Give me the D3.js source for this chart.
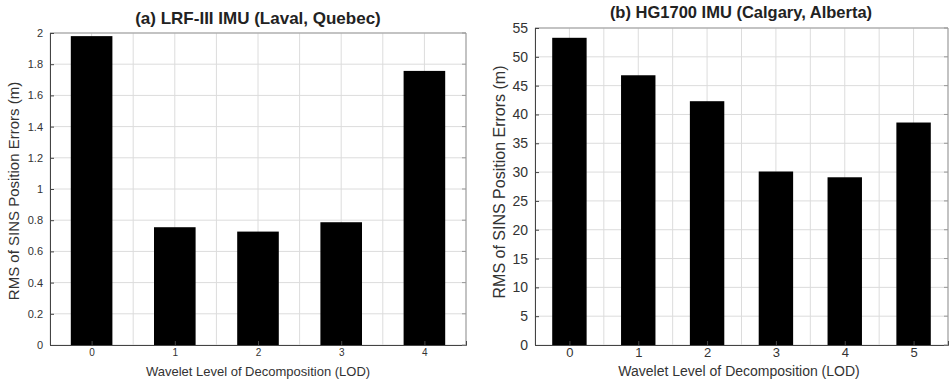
<!DOCTYPE html>
<html>
<head>
<meta charset="utf-8">
<script src="https://cdn.jsdelivr.net/npm/d3@7"></script>
<style>
  body { margin: 0; background: #fff; }
  svg { display: block; font-family: "Liberation Sans", Arial, sans-serif; }
</style>
</head>
<body>
<svg id="chart" width="950" height="381"></svg>
<script>
// data
var lodA = [0, 1, 2, 3, 4];
var rmsA = [1.98, 0.755, 0.727, 0.787, 1.757];
var yTicksA = [0, 0.2, 0.4, 0.6, 0.8, 1, 1.2, 1.4, 1.6, 1.8, 2];

var lodB = [0, 1, 2, 3, 4, 5];
var rmsB = [53.3, 46.8, 42.3, 30.1, 29.1, 38.6];
var yTicksB = [0, 5, 10, 15, 20, 25, 30, 35, 40, 45, 50, 55];

var titleA = "(a) LRF-III IMU (Laval, Quebec)";
var titleB = "(b) HG1700 IMU (Calgary, Alberta)";
var xLabel = "Wavelet Level of Decomposition (LOD)";
var yLabel = "RMS of SINS Position Errors (m)";

var svg = d3.select("#chart");

function drawPanel(opt) {
	var g = svg.append("g");
	var x = d3.scaleLinear().domain([-0.5, opt.cats.length - 0.5]).range([opt.left, opt.right]);
	var y = d3.scaleLinear().domain([0, opt.yMax]).range([opt.bottom, opt.top]);

	// grid: vertical every half step, horizontal at each tick
	var half = d3.range(-0.5, opt.cats.length - 0.5 + 0.01, 0.5);
	g.selectAll(".vg").data(half).enter().append("line")
		.attr("x1", function(d) { return x(d); })
		.attr("x2", function(d) { return x(d); })
		.attr("y1", opt.top).attr("y2", opt.bottom)
		.attr("stroke", "#dcdcdc").attr("stroke-width", 1);
	g.selectAll(".hg").data(opt.ticks).enter().append("line")
		.attr("x1", opt.left).attr("x2", opt.right)
		.attr("y1", function(d) { return y(d); })
		.attr("y2", function(d) { return y(d); })
		.attr("stroke", "#dcdcdc").attr("stroke-width", 1);

	// bars
	g.selectAll(".bar").data(opt.values).enter().append("rect")
		.attr("x", function(d, i) { return x(opt.cats[i] - 0.25); })
		.attr("width", x(0.25) - x(-0.25))
		.attr("y", function(d) { return y(d); })
		.attr("height", function(d) { return opt.bottom - y(d); })
		.attr("fill", "#000");

	// frame (top/right lighter)
	g.append("line").attr("x1", opt.left).attr("x2", opt.right).attr("y1", opt.top).attr("y2", opt.top)
		.attr("stroke", "#999");
	g.append("line").attr("x1", opt.right).attr("x2", opt.right).attr("y1", opt.top).attr("y2", opt.bottom)
		.attr("stroke", "#999");

	// axes
	var yAxis = d3.axisLeft(y).tickValues(opt.ticks).tickSize(-4).tickPadding(7)
		.tickFormat(function(d) { return String(d); });
	var ya = g.append("g").attr("transform", "translate(" + opt.left + ",0)").call(yAxis);
	var xAxis = d3.axisBottom(x).tickValues(opt.cats).tickSize(-4).tickPadding(opt.xPad)
		.tickFormat(d3.format("d"));
	var xa = g.append("g").attr("transform", "translate(0," + opt.bottom + ")").call(xAxis);
	[ya, xa].forEach(function(a) {
		a.select(".domain").attr("stroke", "#444");
		a.selectAll(".tick line").attr("stroke", "#444");
		a.selectAll("text").attr("fill", "#333");
	});
	ya.selectAll("text").style("font-size", opt.yTickSize + "px");
	xa.selectAll("text").style("font-size", opt.xTickSize + "px");

	// right-side tick marks
	g.selectAll(".rt").data(opt.ticks).enter().append("line")
		.attr("x1", opt.right - 4).attr("x2", opt.right)
		.attr("y1", function(d) { return y(d); })
		.attr("y2", function(d) { return y(d); })
		.attr("stroke", "#999");

	// labels
	g.append("text").attr("x", opt.titleX).attr("y", opt.titleY)
		.attr("text-anchor", "middle").attr("fill", "#222")
		.style("font-size", opt.titleSize + "px").style("font-weight", "bold")
		.text(opt.title);
	g.append("text").attr("x", opt.xLabelX).attr("y", 376)
		.attr("text-anchor", "middle").attr("fill", "#333")
		.style("font-size", opt.xLabelSize + "px")
		.text(xLabel);
	g.append("text")
		.attr("transform", "translate(" + opt.yLabelX + "," + opt.yLabelY + ") rotate(-90)")
		.attr("text-anchor", "middle").attr("fill", "#333")
		.style("font-size", opt.yLabelSize + "px")
		.text(yLabel);
}

drawPanel({
	cats: lodA, values: rmsA, ticks: yTicksA, yMax: 2,
	left: 50, right: 466, top: 33, bottom: 345,
	title: titleA, titleX: 258, titleY: 24, titleSize: 17,
	xLabelX: 258, yLabelX: 19, yLabelY: 191,
	yTickSize: 11, xTickSize: 10, xLabelSize: 13, yLabelSize: 15, xPad: 4
});

drawPanel({
	cats: lodB, values: rmsB, ticks: yTicksB, yMax: 55,
	left: 535, right: 948, top: 28, bottom: 345,
	title: titleB, titleX: 741, titleY: 18, titleSize: 16.5,
	xLabelX: 739, yLabelX: 505, yLabelY: 182,
	yTickSize: 14, xTickSize: 13, xLabelSize: 14, yLabelSize: 16, xPad: 3
});
</script>
</body>
</html>
